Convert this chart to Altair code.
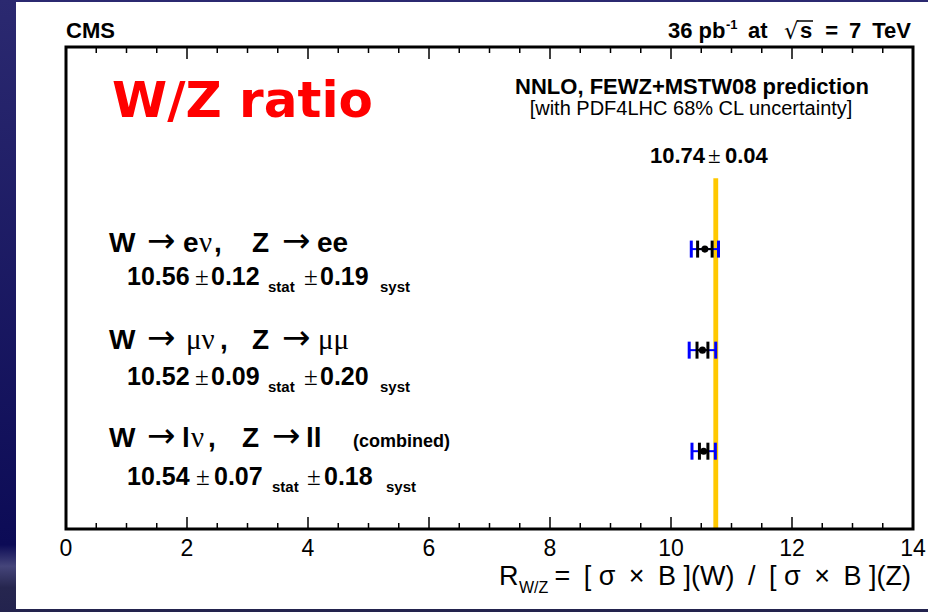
import math
import altair as alt
import pandas as pd

# ------------------------------------------------------------------ data
channel_key = ["ee", "mumu", "ll"]
ratio = [10.56, 10.52, 10.54]
stat_err = [0.12, 0.09, 0.07]
syst_err = [0.19, 0.20, 0.18]
row_pos = [1, 2, 3]
prediction = 10.74
prediction_err = 0.04
major_ticks = [0, 2, 4, 6, 8, 10, 12, 14]
minor_ticks = [0.5, 1, 1.5, 2.5, 3, 3.5, 4.5, 5, 5.5, 6.5, 7, 7.5,
               8.5, 9, 9.5, 10.5, 11, 11.5, 12.5, 13, 13.5]

# ------------------------------------------------------------------ layout
L, T, R, B = 66, 47, 15, 83
W, H = 847, 482

tot_err = [math.hypot(s, y) for s, y in zip(stat_err, syst_err)]
df = pd.DataFrame({
    "key": channel_key, "ratio": ratio, "row": row_pos,
    "stat_lo": [r - s for r, s in zip(ratio, stat_err)],
    "stat_hi": [r + s for r, s in zip(ratio, stat_err)],
    "tot_lo": [r - t for r, t in zip(ratio, tot_err)],
    "tot_hi": [r + t for r, t in zip(ratio, tot_err)],
})
caps = pd.concat([
    pd.DataFrame({"v": df[c], "row": df["row"], "kind": k})
    for c, k in [("tot_lo", "tot"), ("tot_hi", "tot"), ("stat_lo", "stat"), ("stat_hi", "stat")]
])
band = pd.DataFrame({"lo": [prediction - prediction_err], "hi": [prediction + prediction_err],
                     "top": [0.3], "bot": [3.77]})

XS = alt.Scale(domain=[0, 14], nice=False, zero=False)
YS = alt.Scale(domain=[-1, 3.77], reverse=True, nice=False, zero=False)


def X(field):
    return alt.X(field, type="quantitative", scale=XS, axis=None)


def Y(field):
    return alt.Y(field, type="quantitative", scale=YS, axis=None)


one = pd.DataFrame({"d": [0]})
layers = []

# background (navy gradient) and white panel
layers.append(alt.Chart(one).mark_rect(color=alt.LinearGradient(
    gradient="linear",
    stops=[alt.GradientStop(color="#2b2970", offset=0),
           alt.GradientStop(color="#0c0b56", offset=0.89),
           alt.GradientStop(color="#45457a", offset=0.925),
           alt.GradientStop(color="#26264f", offset=0.96),
           alt.GradientStop(color="#23234e", offset=1)],
    x1=0, x2=0, y1=0, y2=1)).encode(
    x=alt.value(-L), x2=alt.value(W + R), y=alt.value(-T), y2=alt.value(H + B)))
layers.append(alt.Chart(one).mark_rect(color="white").encode(
    x=alt.value(16 - L), x2=alt.value(928 - L), y=alt.value(2 - T), y2=alt.value(609 - T)))

# prediction band
layers.append(alt.Chart(band).mark_rect(color="#ffc800").encode(
    x=X("lo"), x2="hi", y=Y("top"), y2="bot"))

# axis ticks (inward, top and bottom) and tick labels
for vals, ln in [(major_ticks, 12), (minor_ticks, 6)]:
    tdf = pd.DataFrame({"v": vals})
    layers.append(alt.Chart(tdf).mark_rule(color="black", strokeWidth=1.5).encode(
        x=X("v"), y=alt.value(H), y2=alt.value(H - ln)))
    layers.append(alt.Chart(tdf).mark_rule(color="black", strokeWidth=1.5).encode(
        x=X("v"), y=alt.value(0), y2=alt.value(ln)))
layers.append(alt.Chart(pd.DataFrame({"v": major_ticks})).mark_text(
    font="Liberation Sans", fontSize=23, baseline="alphabetic", align="center", color="black").encode(
    x=X("v"), y=alt.value(556 - T), text=alt.Text("v:Q", format="d")))

# error bars
layers.append(alt.Chart(df).mark_rule(color="#0000ff", strokeWidth=2).encode(
    x=X("tot_lo"), x2="tot_hi", y=Y("row")))
layers.append(alt.Chart(df).mark_rule(color="black", strokeWidth=2).encode(
    x=X("stat_lo"), x2="stat_hi", y=Y("row")))
layers.append(alt.Chart(caps[caps.kind == "tot"]).mark_tick(
    orient="vertical", color="#0000ff", size=17, thickness=3, opacity=1).encode(x=X("v"), y=Y("row")))
layers.append(alt.Chart(caps[caps.kind == "stat"]).mark_tick(
    orient="vertical", color="black", size=17, thickness=3, opacity=1).encode(x=X("v"), y=Y("row")))
layers.append(alt.Chart(df).mark_circle(color="black", size=50, opacity=1).encode(
    x=X("ratio"), y=Y("row")))

# ------------------------------------------------------------------ texts
EN = "\u2002"
segs = [
    ("CMS", 66, 38, "hdr"),
    ("36 pb", 668, 38, "hdr"),
    ("-1", 726, 29, "sup"),
    ("at", 748, 38, "hdr"),
    ("\u221a", 784, 39, "rad"),
    ("s", 800, 38, "hdr"),
    (f"={EN}7{EN}TeV", 911, 38, "hdr_r"),
    ("NNLO, FEWZ+MSTW08 prediction", 692, 94, "nnlo"),
    ("[with PDF4LHC 68% CL uncertainty]", 691, 115, "note"),
    (f"{prediction:.2f}", 650, 163, "pred"),
    ("\u00b1", 708, 163, "pred_pm"),
    (f"{prediction_err:.2f}", 725, 163, "pred"),
    ("W/Z ratio", 112, 117, "big"),
    ("R", 499, 585, "axt"),
    ("W/Z", 519, 593, "axsub"),
    (f"={EN}[ \u03c3{EN}\u00d7{EN}B ](W){EN}/{EN}[ \u03c3{EN}\u00d7{EN}B ](Z)", 911, 585, "axt_r"),
]

titles = {
    "ee": [("W", 109, "ttl"), ("\u2192", 147, "tsym"), ("e", 183, "ttl"), ("\u03bd", 199, "tgr"),
           (",", 214, "ttl"), ("Z", 252, "ttl"), ("\u2192", 282, "tsym"), ("ee", 317, "ttl")],
    "mumu": [("W", 109, "ttl"), ("\u2192", 147, "tsym"), ("\u03bc\u03bd", 186, "tgr"),
             (",", 220, "ttl"), ("Z", 252, "ttl"), ("\u2192", 282, "tsym"), ("\u03bc\u03bc", 318, "tgr")],
    "ll": [("W", 109, "ttl"), ("\u2192", 147, "tsym"), ("l", 182, "ttl"), ("\u03bd", 191, "tgr"),
           (",", 208, "ttl"), ("Z", 242, "ttl"), ("\u2192", 272, "tsym"), ("ll", 306, "ttl"),
           ("(combined)", 353, "comb")],
}
title_base = [252, 349, 447]
num_base = [285, 385, 485]
num_x = [[127, 195, 211, 268, 304, 320, 380],
         [127, 195, 211, 268, 304, 320, 380],
         [127, 196, 214, 272, 307, 324, 386]]

for i, k in enumerate(channel_key):
    for txt, x, st in titles[k]:
        segs.append((txt, x, title_base[i], st))
    xs = num_x[i]
    nb = num_base[i]
    segs += [
        (f"{ratio[i]:.2f}", xs[0], nb, "num"),
        ("\u00b1", xs[1], nb, "pm"),
        (f"{stat_err[i]:.2f}", xs[2], nb, "num"),
        ("stat", xs[3], nb + 7, "sub"),
        ("\u00b1", xs[4], nb, "pm"),
        (f"{syst_err[i]:.2f}", xs[5], nb, "num"),
        ("syst", xs[6], nb + 7, "sub"),
    ]

seg_df = pd.DataFrame(segs, columns=["text", "X", "Y", "style"])
seg_df["px"] = seg_df["X"] - L
seg_df["py"] = seg_df["Y"] - T

SANS = "Liberation Sans"
SERIF = "Liberation Serif"
styles = {
    "hdr": (SANS, 22, "bold", "left", "black"),
    "hdr_r": (SANS, 22, "bold", "right", "black"),
    "sup": (SANS, 13, "bold", "left", "black"),
    "rad": ("DejaVu Sans", 23, "normal", "left", "black"),
    "nnlo": (SANS, 22, "bold", "center", "black"),
    "note": (SANS, 20, "normal", "center", "black"),
    "pred": (SANS, 22, "bold", "left", "black"),
    "pred_pm": (SERIF, 23, "normal", "left", "black"),
    "big": ("DejaVu Sans", 50, "bold", "left", "#ff0000"),
    "ttl": (SANS, 28, "bold", "left", "black"),
    "tsym": ("DejaVu Sans", 34, "normal", "left", "black"),
    "tgr": (SERIF, 29, "normal", "left", "black"),
    "comb": (SANS, 18, "bold", "left", "black"),
    "num": (SANS, 25, "bold", "left", "black"),
    "pm": (SERIF, 25, "normal", "left", "black"),
    "sub": (SANS, 15, "bold", "left", "black"),
    "axt": (SANS, 27, "normal", "left", "black"),
    "axt_r": (SANS, 27, "normal", "right", "black"),
    "axsub": (SANS, 16, "normal", "left", "black"),
}
for name, (font, size, weight, align, color) in styles.items():
    sub = seg_df[seg_df["style"] == name][["text", "px", "py"]]
    if len(sub) == 0:
        continue
    layers.append(alt.Chart(sub).mark_text(
        align=align, baseline="alphabetic", font=font, fontSize=size,
        fontWeight=weight, color=color).encode(
        x=alt.X("px:Q", scale=None, axis=None),
        y=alt.Y("py:Q", scale=None, axis=None),
        text="text:N"))

# overbar of the square root
layers.append(alt.Chart(one).mark_rule(color="black", strokeWidth=1.5).encode(
    x=alt.value(797 - L), x2=alt.value(813 - L), y=alt.value(21 - T)))

# frame
layers.append(alt.Chart(one).mark_rect(filled=False, stroke="black", strokeWidth=3).encode(
    x=alt.value(0), x2=alt.value(W), y=alt.value(0), y2=alt.value(H)))

chart = alt.layer(*layers).properties(
    width=W, height=H,
    padding={"left": L, "top": T, "right": R, "bottom": B},
    autosize=alt.AutoSizeParams(type="none"),
    background="#1d1c60",
).configure_view(strokeWidth=0)

chart.save("out.html", embed_options={"renderer": "svg", "actions": False})
